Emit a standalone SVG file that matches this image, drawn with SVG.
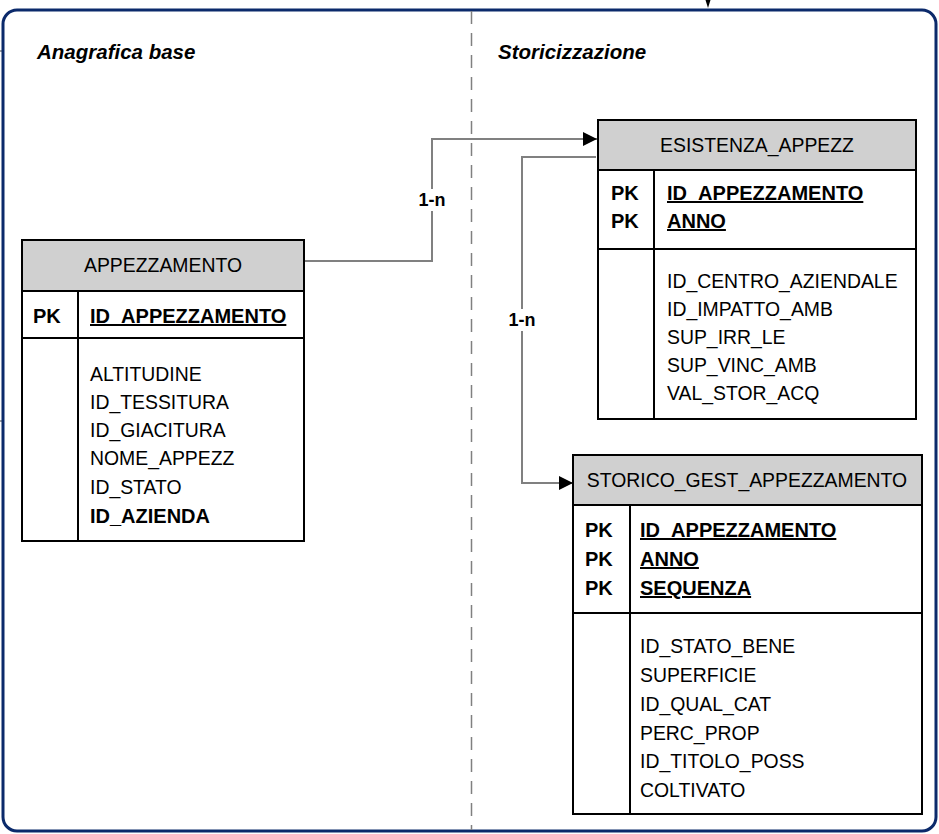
<svg xmlns="http://www.w3.org/2000/svg" width="939" height="834" viewBox="0 0 939 834">
<style>
  .frame{fill:#fff;stroke:#0b2a6b;stroke-width:3}
  .tbl{fill:#fff;stroke:#000;stroke-width:2}
  .hdr{fill:#d0d0d0;stroke:#000;stroke-width:2}
  .ln{stroke:#000;stroke-width:2;fill:none}
  .conn{stroke:#808080;stroke-width:2;fill:none}
  text{font-family:"Liberation Sans",Arial,sans-serif;fill:#000}
  .t{font-size:19.4px}
  .c{text-anchor:middle}
  .b{font-weight:bold;font-size:20px}
  .u{text-decoration:underline}
  .title{font-size:20.5px;font-weight:bold;font-style:italic}
  .lbl{font-size:18px;font-weight:bold;text-anchor:middle}
</style>
<defs>
  <marker id="arr" viewBox="0 0 10 10" refX="10" refY="5" markerWidth="20" markerHeight="14" markerUnits="userSpaceOnUse" orient="auto">
    <path d="M0,0 L10,5 L0,10 z" fill="#000"/>
  </marker>
</defs>
<rect width="939" height="834" fill="#fff"/>
<line x1="0" y1="51" x2="3" y2="51" stroke="#808080" stroke-width="1.5"/>
<line x1="0" y1="421" x2="3" y2="421" stroke="#808080" stroke-width="1.5"/>
<rect class="frame" x="3" y="10" width="933" height="821" rx="14"/>
<polygon points="705.5,0 710.5,0 708,8" fill="#000"/>
<line x1="471.5" y1="11" x2="471.5" y2="830" stroke="#808080" stroke-width="1.5" stroke-dasharray="13 9"/>
<text class="title" x="37" y="59">Anagrafica base</text>
<text class="title" x="498" y="59">Storicizzazione</text>

<g id="connectors">
  <path class="conn" d="M305,261 H432 V139 H597" marker-end="url(#arr)"/>
  <path class="conn" d="M596,157 H522 V483 H573" marker-end="url(#arr)"/>
  <rect x="421" y="189" width="22" height="22" fill="#fff"/>
  <text class="lbl" x="432" y="206">1-n</text>
  <rect x="511" y="309" width="22" height="22" fill="#fff"/>
  <text class="lbl" x="522" y="326">1-n</text>
</g>

<g id="appezzamento">
  <rect class="tbl" x="22" y="240" width="282" height="301"/>
  <rect class="hdr" x="22" y="240" width="282" height="51"/>
  <line class="ln" x1="22" y1="338" x2="304" y2="338"/>
  <line class="ln" x1="78" y1="291" x2="78" y2="541"/>
  <text class="t c" x="163" y="272">APPEZZAMENTO</text>
  <text class="t b" x="33" y="323">PK</text>
  <text class="t b u" x="90" y="323">ID_APPEZZAMENTO</text>
  <text class="t" x="90" y="381">ALTITUDINE</text>
  <text class="t" x="90" y="409">ID_TESSITURA</text>
  <text class="t" x="90" y="437">ID_GIACITURA</text>
  <text class="t" x="90" y="465">NOME_APPEZZ</text>
  <text class="t" x="90" y="494">ID_STATO</text>
  <text class="t b" x="90" y="523">ID_AZIENDA</text>
</g>

<g id="esistenza_appezz">
  <rect class="tbl" x="598" y="120" width="318" height="299"/>
  <rect class="hdr" x="598" y="120" width="318" height="50"/>
  <line class="ln" x1="598" y1="249" x2="916" y2="249"/>
  <line class="ln" x1="654" y1="170" x2="654" y2="419"/>
  <text class="t c" x="757" y="152">ESISTENZA_APPEZZ</text>
  <text class="t b" x="611" y="200">PK</text>
  <text class="t b" x="611" y="228">PK</text>
  <text class="t b u" x="667" y="200">ID_APPEZZAMENTO</text>
  <text class="t b u" x="667" y="228">ANNO</text>
  <text class="t" x="667" y="288">ID_CENTRO_AZIENDALE</text>
  <text class="t" x="667" y="316">ID_IMPATTO_AMB</text>
  <text class="t" x="667" y="344">SUP_IRR_LE</text>
  <text class="t" x="667" y="372">SUP_VINC_AMB</text>
  <text class="t" x="667" y="400">VAL_STOR_ACQ</text>
</g>

<g id="storico_gest_appezzamento">
  <rect class="tbl" x="573" y="455" width="349" height="359"/>
  <rect class="hdr" x="573" y="455" width="349" height="50"/>
  <line class="ln" x1="573" y1="613" x2="922" y2="613"/>
  <line class="ln" x1="630" y1="505" x2="630" y2="814"/>
  <text class="t c" x="747" y="487">STORICO_GEST_APPEZZAMENTO</text>
  <text class="t b" x="585" y="537">PK</text>
  <text class="t b" x="585" y="566">PK</text>
  <text class="t b" x="585" y="595">PK</text>
  <text class="t b u" x="640" y="537">ID_APPEZZAMENTO</text>
  <text class="t b u" x="640" y="566">ANNO</text>
  <text class="t b u" x="640" y="595">SEQUENZA</text>
  <text class="t" x="640" y="653">ID_STATO_BENE</text>
  <text class="t" x="640" y="682">SUPERFICIE</text>
  <text class="t" x="640" y="711">ID_QUAL_CAT</text>
  <text class="t" x="640" y="740">PERC_PROP</text>
  <text class="t" x="640" y="768">ID_TITOLO_POSS</text>
  <text class="t" x="640" y="797">COLTIVATO</text>
</g>
</svg>
